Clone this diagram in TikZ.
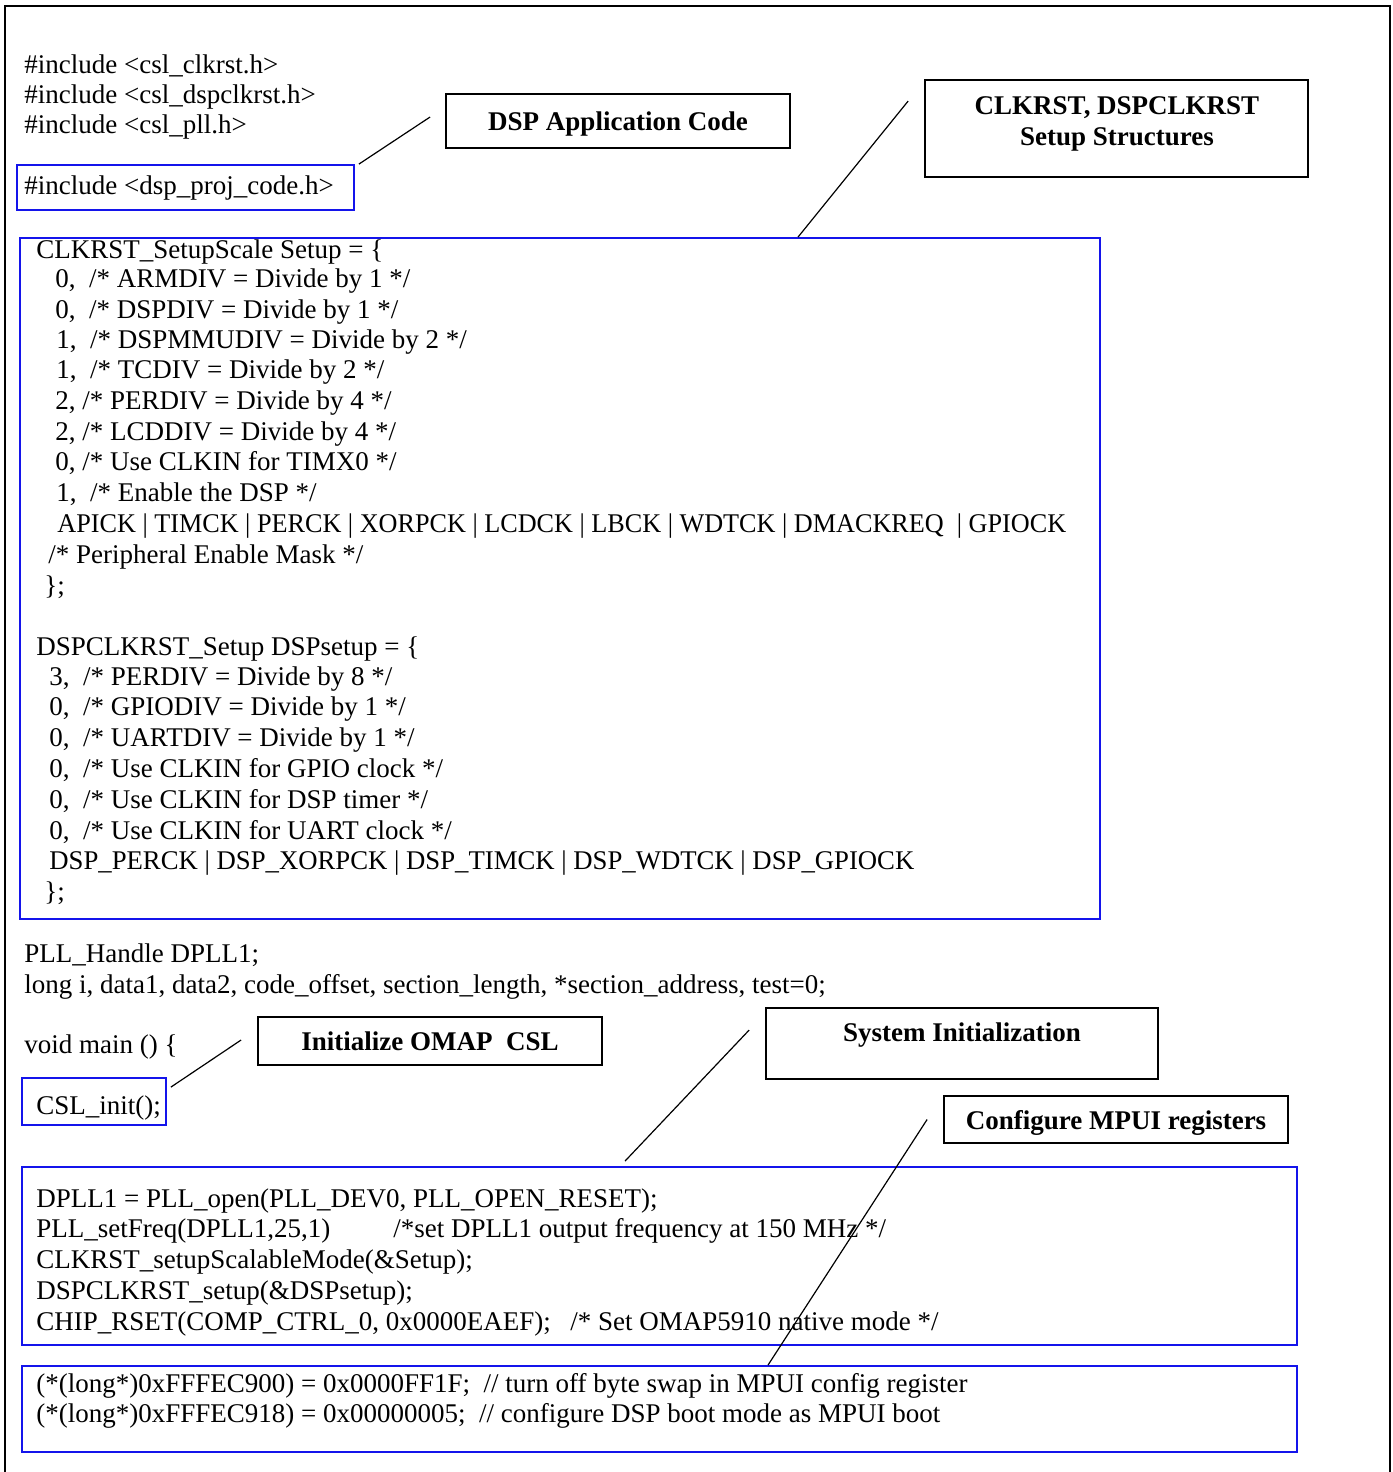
\documentclass[tikz,border=0pt]{standalone}
\usepackage{fontspec}
\setmainfont{Liberation Serif}
\definecolor{frameblue}{RGB}{20,20,235}
\begin{document}
\begin{tikzpicture}[x=0.5pt,y=-0.5pt]
\tikzstyle{code}=[anchor=base west, inner sep=0pt, font=\fontsize{13.5}{15}\selectfont]
\tikzstyle{bluebox}=[draw=frameblue, line width=0.9pt, inner sep=0pt]
\tikzstyle{lblbox}=[draw=black, line width=0.9pt, inner sep=0pt, text depth=0pt, font=\bfseries\fontsize{13.5}{15.5}\selectfont]
\tikzstyle{lbltext}=[inner sep=0pt, align=center, font=\bfseries\fontsize{13.5}{15.5}\selectfont]
\tikzstyle{callout}=[black, line width=0.6pt]
\useasboundingbox (0,0) rectangle (1392,1472);
\draw [black, line width=0.6pt] (5,1472) -- (5,6) -- (1390,6) -- (1390,1472);

\node[code] (inc1) at (24,73) {\#include <csl\_clkrst.h>};
\node[code] (inc2) at (24,103) {\#include <csl\_dspclkrst.h>};
\node[code] (inc3) at (24,133) {\#include <csl\_pll.h>};
\node[bluebox, minimum width=168.5pt, minimum height=22.5pt] (proj) at (185.5,187.5) {};
\node[code] (inc4) at (24,194) {\#include <dsp\_proj\_code.h>};
\node[lblbox, minimum width=172pt, minimum height=27pt] (app) at (618,121) {DSP Application Code};
\node[lblbox, minimum width=191.5pt, minimum height=48.5pt] (strct) at (1116.5,128.5) {};
\node[lbltext] (strtxt) at (1117,124) {CLKRST, DSPCLKRST\\Setup Structures};

\node[bluebox, minimum width=540pt, minimum height=340.5pt] (setup) at (560,578.5) {};
\node[code] (s1) at (36,258) {CLKRST\_SetupScale Setup = \{};
\node[code] (s2) at (55,287) {0,\ \ /* ARMDIV = Divide by 1 */};
\node[code] (s3) at (55,318) {0,\ \ /* DSPDIV = Divide by 1 */};
\node[code] (s4) at (56,348) {1,\ \ /* DSPMMUDIV = Divide by 2 */};
\node[code] (s5) at (56,378) {1,\ \ /* TCDIV = Divide by 2 */};
\node[code] (s6) at (55,409) {2, /* PERDIV = Divide by 4 */};
\node[code] (s7) at (55,440) {2, /* LCDDIV = Divide by 4 */};
\node[code] (s8) at (55,470) {0, /* Use CLKIN for TIMX0 */};
\node[code] (s9) at (56,501) {1,\ \ /* Enable the DSP */};
\node[code] (s10) at (57,532) {\scalebox{0.97}[1]{APICK | TIMCK | PERCK | XORPCK | LCDCK | LBCK | WDTCK | DMACKREQ\ \ | GPIOCK}};
\node[code] (s11) at (48,563) {/* Peripheral Enable Mask */};
\node[code] (s12) at (44,594) {\};};
\node[code] (d1) at (36,655) {DSPCLKRST\_Setup DSPsetup = \{};
\node[code] (d2) at (49,685) {3,\ \ /* PERDIV = Divide by 8 */};
\node[code] (d3) at (49,715) {0,\ \ /* GPIODIV = Divide by 1 */};
\node[code] (d4) at (49,746) {0,\ \ /* UARTDIV = Divide by 1 */};
\node[code] (d5) at (49,777) {0,\ \ /* Use CLKIN for GPIO clock */};
\node[code] (d6) at (49,808) {0,\ \ /* Use CLKIN for DSP timer */};
\node[code] (d7) at (49,839) {0,\ \ /* Use CLKIN for UART clock */};
\node[code] (d8) at (49,869) {\scalebox{0.99}[1]{DSP\_PERCK | DSP\_XORPCK | DSP\_TIMCK | DSP\_WDTCK | DSP\_GPIOCK}};
\node[code] (d9) at (44,900) {\};};

\node[code] (g1) at (24,962) {PLL\_Handle DPLL1;};
\node[code] (g2) at (24,993) {long i, data1, data2, code\_offset, section\_length, *section\_address, test=0;};
\node[code] (m1) at (24,1053) {void main () \{};
\node[lblbox, minimum width=172pt, minimum height=24pt] (init) at (430,1041) {Initialize OMAP\ \ CSL};
\node[bluebox, minimum width=72pt, minimum height=23.5pt] (csl) at (94,1101.5) {};
\node[code] (m2) at (36,1114) {CSL\_init();};
\node[lblbox, minimum width=196pt, minimum height=35.5pt] (sys) at (962,1043.5) {};
\node[lbltext] (systxt) at (962,1035) {System Initialization};
\node[lblbox, minimum width=172pt, minimum height=23.5pt] (mpui) at (1116,1119.5) {Configure MPUI registers};

\node[bluebox, minimum width=637.5pt, minimum height=89pt] (sysbox) at (659.5,1256) {};
\node[code] (i1) at (36,1207) {DPLL1 = PLL\_open(PLL\_DEV0, PLL\_OPEN\_RESET);};
\node[code] (i2) at (36,1237) {\makebox[178.5pt][l]{PLL\_setFreq(DPLL1,25,1)}/*set DPLL1 output frequency at 150 MHz */};
\node[code] (i3) at (36,1268) {CLKRST\_setupScalableMode(\&Setup);};
\node[code] (i4) at (36,1299) {DSPCLKRST\_setup(\&DSPsetup);};
\node[code] (i5) at (36,1330) {\makebox[267pt][l]{CHIP\_RSET(COMP\_CTRL\_0, 0x0000EAEF);}/* Set OMAP5910 native mode */};

\node[bluebox, minimum width=637.5pt, minimum height=43pt] (mpuibox) at (659.5,1409) {};
\node[code] (r1) at (36,1392) {(*(long*)0xFFFEC900) = 0x0000FF1F;\ \ // turn off byte swap in MPUI config register};
\node[code] (r2) at (36,1422) {(*(long*)0xFFFEC918) = 0x00000005;\ \ // configure DSP boot mode as MPUI boot};

\coordinate (append) at ([xshift=-7.5pt,yshift=2pt]app.west);
\coordinate (strend) at ([xshift=-8pt,yshift=-11pt]strct.north west);
\coordinate (initend) at ([xshift=-8pt,yshift=0.5pt]init.west);
\coordinate (sysend) at ([xshift=-8pt,yshift=-11.5pt]sys.north west);
\coordinate (mpuiend) at ([xshift=-8pt]mpui.west);
\draw [callout] ([xshift=2pt]proj.north east) -- (append);
\draw [callout] ([xshift=119pt]setup.north) -- (strend);
\draw [callout] ([xshift=2pt,yshift=-5pt]csl.north east) -- (initend);
\draw [callout] ([xshift=-17.25pt,yshift=2.5pt]sysbox.north) -- (sysend);
\draw [callout] ([xshift=54.25pt]mpuibox.north) -- (mpuiend);
\end{tikzpicture}
\end{document}
